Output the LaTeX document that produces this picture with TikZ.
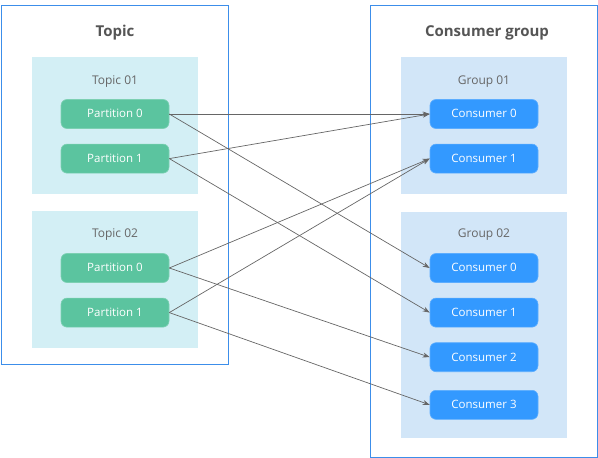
\documentclass[tikz,border=0pt]{standalone}
\usepackage{fontspec}
\setmainfont{Open Sans}
\usetikzlibrary{arrows.meta, positioning}
\definecolor{frameblue}{HTML}{3C8EEA}
\definecolor{topicfill}{HTML}{D3EFF5}
\definecolor{groupfill}{HTML}{D2E6F8}
\definecolor{partgreen}{HTML}{5BC49F}
\definecolor{consblue}{HTML}{3399FF}
\definecolor{labelgrey}{HTML}{666666}
\definecolor{titlegrey}{HTML}{555555}

\begin{document}
\begin{tikzpicture}[
  x=1pt, y=-1pt,
  node distance=15pt,
  frame/.style={rectangle, draw=frameblue, line width=0.8pt, minimum width=227pt},
  area/.style={rectangle, minimum width=166pt, minimum height=137pt},
  title/.style={font=\fontsize{15}{18}\selectfont\bfseries, text=titlegrey},
  label/.style={font=\fontsize{12}{14}\selectfont, text=labelgrey},
  item/.style={rectangle, rounded corners=6pt, minimum width=108pt, minimum height=29pt,
               inner sep=0pt, text=white, text depth=0.5pt, font=\fontsize{11.5}{14}\selectfont},
  part/.style={item, fill=partgreen, draw=partgreen!80!white, line width=0.6pt},
  cons/.style={item, fill=consblue, draw=consblue!80!white, line width=0.6pt},
  arrow/.style={-{Stealth[length=7pt, width=5pt]}, draw=labelgrey, line width=0.7pt}
]
\useasboundingbox (0,0) rectangle (598,458);

% outer frames
\node[frame, minimum height=359pt] (topicframe) at (114.5,184.5) {};
\node[frame, minimum height=452pt] (groupframe) at (483.5,231) {};
\node[title] (topictitle) at (115,33) {Topic};
\node[title] (grouptitle) at (487,33) {Consumer group};

% topics
\node[area, fill=topicfill] (topic1) at (115,125.5) {};
\node[label] (topic1label) at (115,82) {Topic 01};
\node[part] (t1p0) at (115,114) {Partition 0};
\node[part, below=of t1p0] (t1p1) {Partition 1};

\node[area, fill=topicfill] (topic2) at (115,279.5) {};
\node[label] (topic2label) at (115,235) {Topic 02};
\node[part] (t2p0) at (115,268) {Partition 0};
\node[part, below=of t2p0] (t2p1) {Partition 1};

% consumer groups
\node[area, fill=groupfill] (group1) at (484,125.5) {};
\node[label] (group1label) at (484,82) {Group 01};
\node[cons] (g1c0) at (484,114) {Consumer 0};
\node[cons, below=of g1c0] (g1c1) {Consumer 1};

\node[area, fill=groupfill, minimum height=226pt] (group2) at (484,325) {};
\node[label] (group2label) at (484,235) {Group 02};
\node[cons] (g2c0) at (484,268) {Consumer 0};
\node[cons, below=of g2c0] (g2c1) {Consumer 1};
\node[cons, below=of g2c1] (g2c2) {Consumer 2};
\node[cons, below=18pt of g2c2] (g2c3) {Consumer 3};

% assignments
\draw[arrow] (t1p0.east) -- (g1c0.west);
\draw[arrow] (t1p0.east) -- (g2c0.west);
\draw[arrow] (t1p1.east) -- (g1c0.west);
\draw[arrow] (t1p1.east) -- (g2c1.west);
\draw[arrow] (t2p0.east) -- (g1c1.west);
\draw[arrow] (t2p0.east) -- (g2c2.west);
\draw[arrow] (t2p1.east) -- (g1c1.west);
\draw[arrow] (t2p1.east) -- (g2c3.west);

\end{tikzpicture}
\end{document}
